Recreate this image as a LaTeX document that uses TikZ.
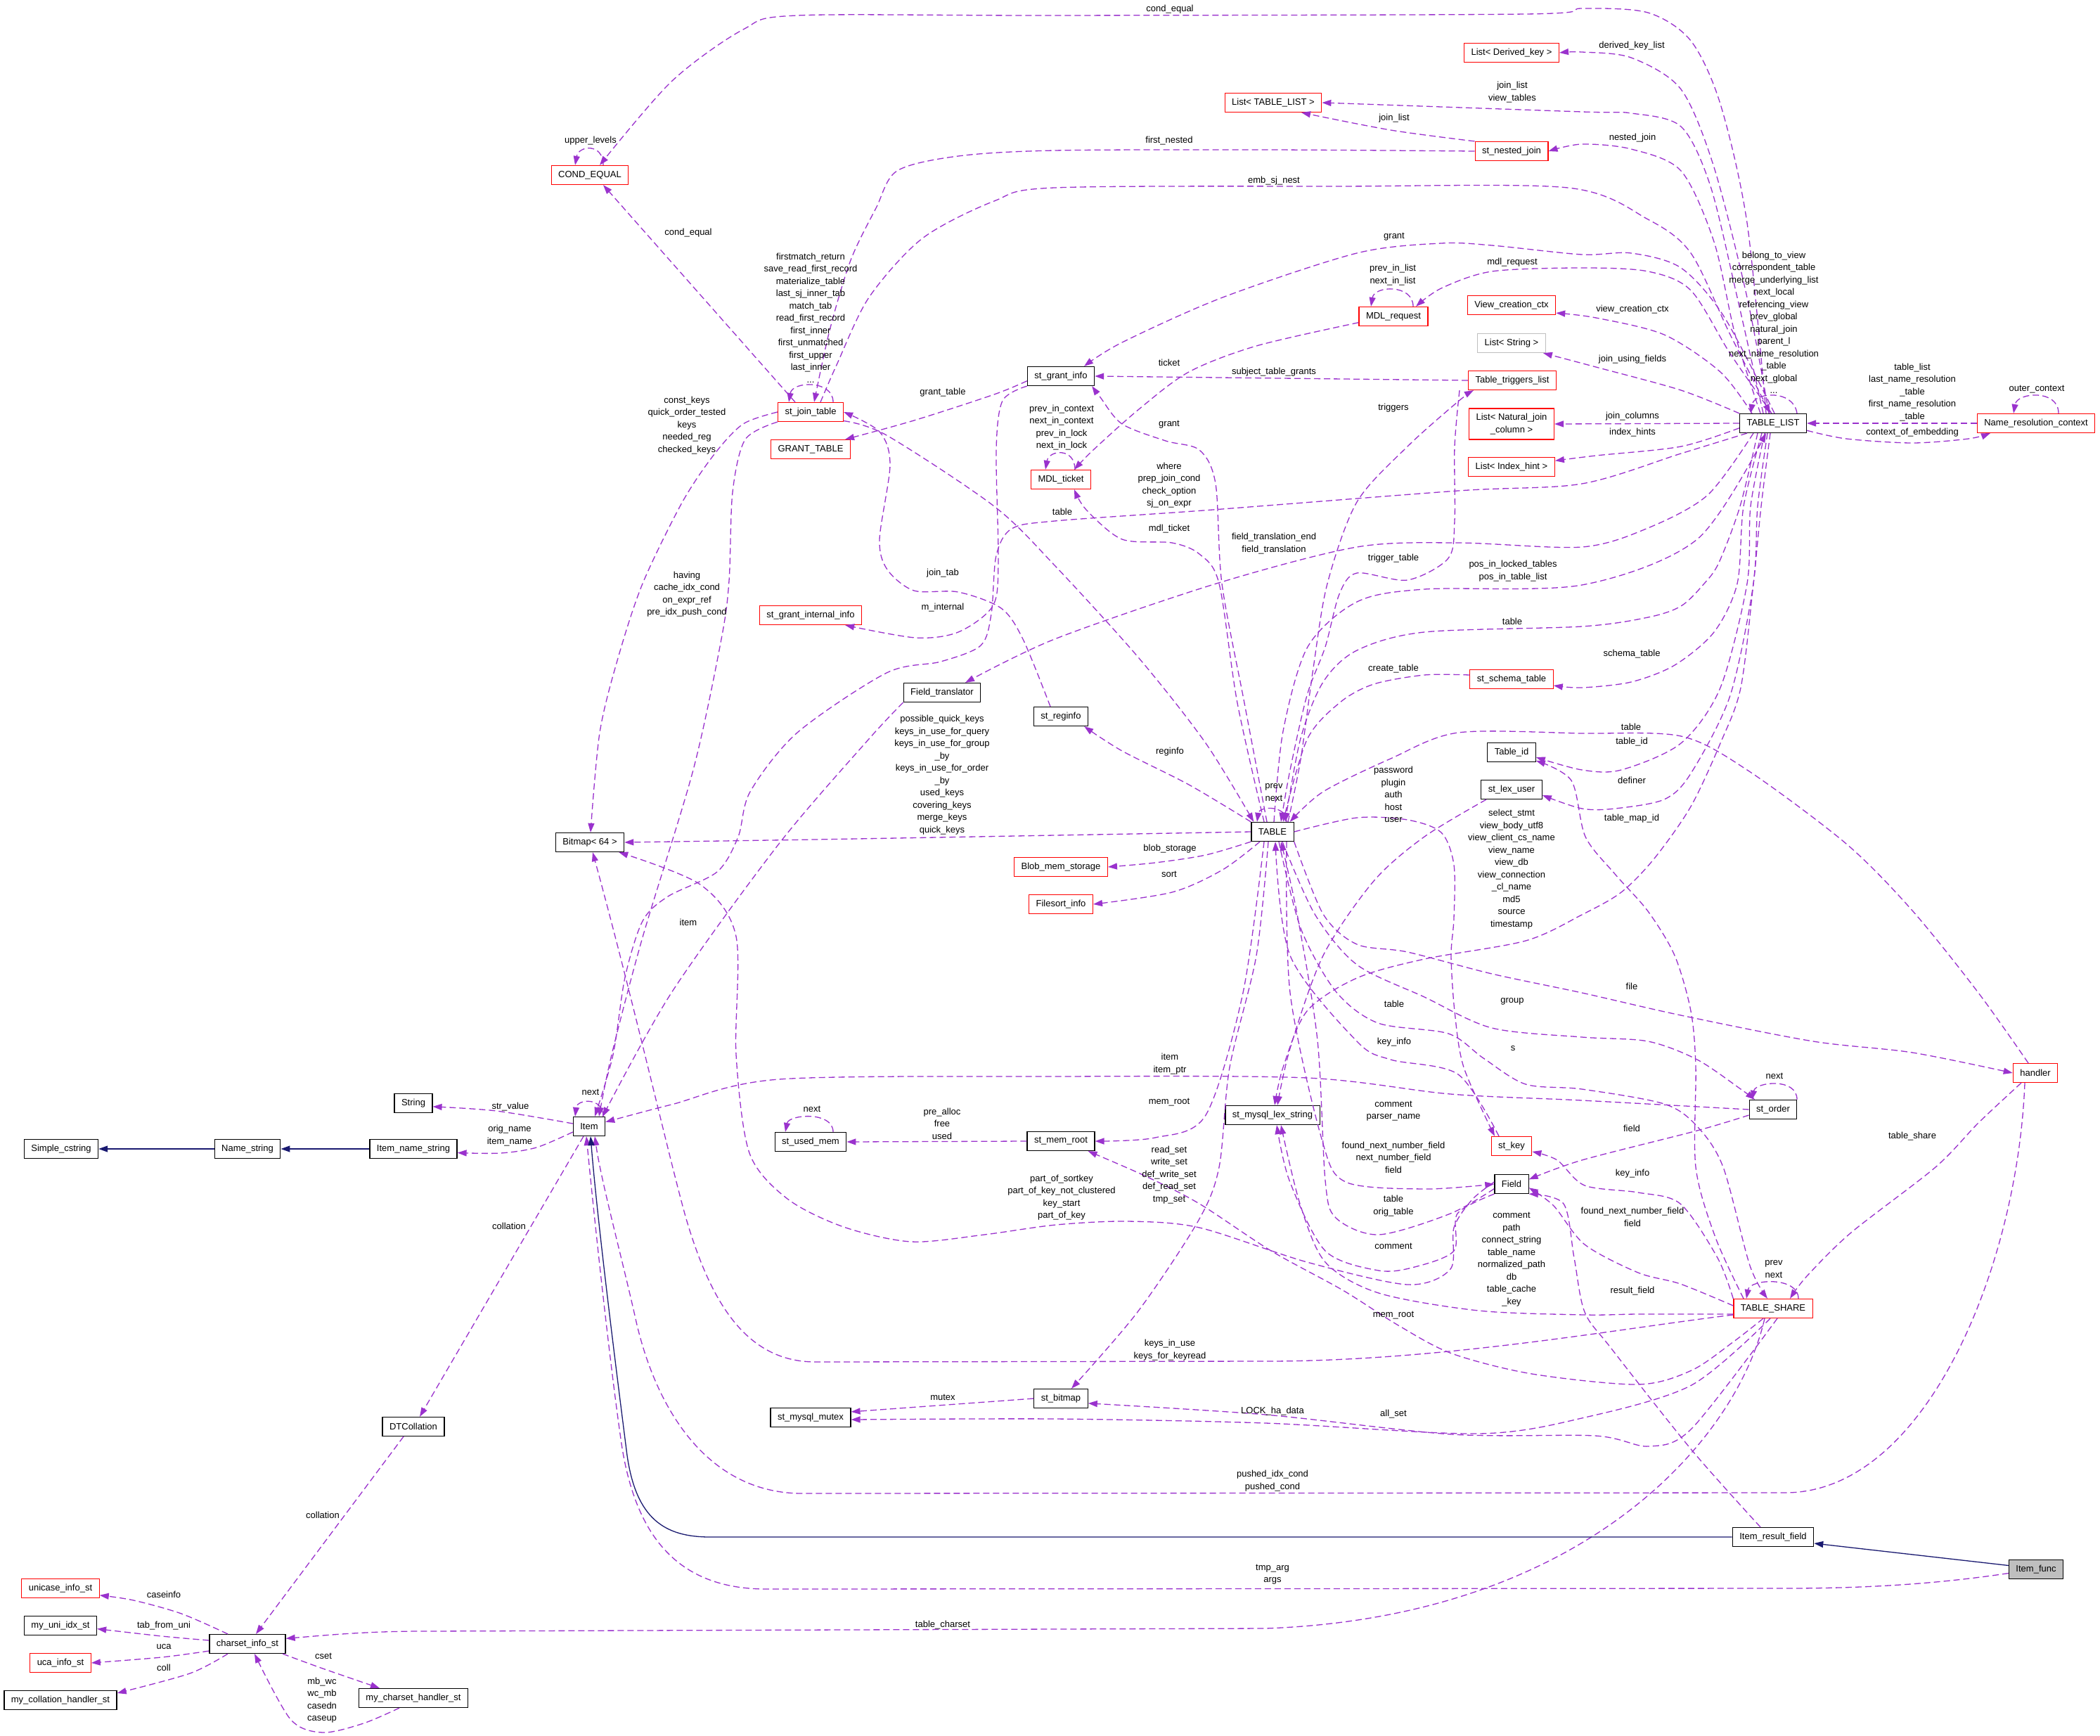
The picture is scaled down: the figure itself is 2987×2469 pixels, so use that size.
\documentclass[tikz,border=0pt]{standalone}
\usepackage{fontspec}
\setmainfont{Liberation Sans}
\usetikzlibrary{arrows.meta}
\definecolor{purp}{HTML}{9A32CD}
\definecolor{navyb}{HTML}{191970}
\newcommand{\dxf}{\fontsize{13bp}{17.5bp}\selectfont}
\newcommand{\depc}[1]{\draw[dep] plot[smooth,tension=0.5] coordinates {#1};}
\begin{document}
\begin{tikzpicture}[x=1bp,y=-1bp,
 box/.style={draw=black, line width=1.2bp, inner xsep=10bp, inner ysep=0bp, minimum height=27bp, font=\dxf, align=center},
 rbox/.style={box, draw=red},
 gbox/.style={box, draw=black!25},
 dep/.style={draw=purp, line width=1.3bp, dash pattern=on 9bp off 5bp, -{Triangle[length=13bp,width=9bp]}},
 inh/.style={draw=navyb, line width=1.3bp, -{Triangle[length=13bp,width=9bp]}},
 lab/.style={font=\dxf, align=center, inner sep=0pt}]
\fill[white] (0,0) rectangle (2987,2469);
\useasboundingbox (0,0) rectangle (2987,2469);
% ---------- nodes ----------
\node[rbox] (cond) at (839,249) {COND\_EQUAL};
\node[rbox] (ldk) at (2150,75) {List< Derived\_key >};
\node[rbox] (ltl) at (1811,146) {List< TABLE\_LIST >};
\node[rbox] (snj) at (2150,215) {st\_nested\_join};
\node[rbox] (vcc) at (2150,434) {View\_creation\_ctx};
\node[rbox] (mdlreq) at (1982,450) {MDL\_request};
\node[gbox] (lstr) at (2150,488) {List< String >};
\node[rbox] (ttl) at (2151,541) {Table\_triggers\_list};
\node[rbox, minimum height=44bp] (lnjc) at (2150,603) {List< Natural\_join\\\_column >};
\node[rbox] (lih) at (2150,664) {List< Index\_hint >};
\node[box] (tl) at (2522,602) {TABLE\_LIST};
\node[rbox] (nrc) at (2896,602) {Name\_resolution\_context};
\node[box] (sgi) at (1509,535) {st\_grant\_info};
\node[rbox] (gt) at (1153,639) {GRANT\_TABLE};
\node[rbox] (sjt) at (1153,586) {st\_join\_table};
\node[rbox] (mdlt) at (1509,682) {MDL\_ticket};
\node[rbox] (sgii) at (1153,875) {st\_grant\_internal\_info};
\node[box] (ft) at (1340,985) {Field\_translator};
\node[box] (sreg) at (1509,1019) {st\_reginfo};
\node[rbox] (sst) at (2150,966) {st\_schema\_table};
\node[box] (tid) at (2150,1070) {Table\_id};
\node[box] (slu) at (2150,1123) {st\_lex\_user};
\node[box] (tbl) at (1810,1183) {TABLE};
\node[box] (bmp) at (839,1198) {Bitmap< 64 >};
\node[rbox] (bms) at (1509,1233) {Blob\_mem\_storage};
\node[rbox] (fsi) at (1509,1286) {Filesort\_info};
\node[rbox] (hdl) at (2895,1526) {handler};
\node[box] (sord) at (2522,1578) {st\_order};
\node[box] (str) at (588,1569) {String};
\node[box] (item) at (838,1602) {Item};
\node[box] (scs) at (87,1634) {Simple\_cstring};
\node[box] (ns) at (352,1634) {Name\_string};
\node[box] (ins) at (588,1634) {Item\_name\_string};
\node[box] (sum) at (1153,1624) {st\_used\_mem};
\node[box] (smr) at (1509,1623) {st\_mem\_root};
\node[box] (smls) at (1810,1586) {st\_mysql\_lex\_string};
\node[rbox] (skey) at (2150,1630) {st\_key};
\node[box] (fld) at (2150,1684) {Field};
\node[rbox] (tsh) at (2522,1861) {TABLE\_SHARE};
\node[box] (sbm) at (1509,1989) {st\_bitmap};
\node[box] (smm) at (1153,2016) {st\_mysql\_mutex};
\node[box] (dtc) at (588,2029) {DTCollation};
\node[box] (irf) at (2522,2186) {Item\_result\_field};
\node[box, fill=black!25] (ifn) at (2896,2232) {Item\_func};
\node[rbox] (uis) at (86,2259) {unicase\_info\_st};
\node[box] (muis) at (86,2312) {my\_uni\_idx\_st};
\node[box] (cis) at (352,2338) {charset\_info\_st};
\node[rbox] (uca) at (86,2365) {uca\_info\_st};
\node[box] (mchs) at (86,2418) {my\_collation\_handler\_st};
\node[box] (mchr) at (588,2415) {my\_charset\_handler\_st};
% ---------- edges: TABLE_LIST fan ----------
\depc{([xshift=-10bp]tl.north) (2485,317) (2447,148) (2405,58) (2344,18) (2250,12) (2170,20) (1500,22) (1134,22) (1057,42) (955,116) ([xshift=14bp]cond.north)}
\depc{([xshift=-6bp]tl.north) (2485,423) (2438,238) (2391,127) (2320,82) (2250,74) (ldk.east)}
\depc{([xshift=-14bp]tl.north) (2471,423) (2433,265) (2391,180) (2320,161) (2250,159) (ltl.east)}
\depc{([xshift=-18bp]tl.north) (2468,476) (2438,344) (2391,243) (2320,212) (2250,205) (snj.east)}
\depc{(snj.165) (1978,185) ([xshift=40bp]ltl.south)}
\depc{(snj.west) (1800,213) (1500,214) (1363,222) (1276,243) (1246,296) (1210,370) (1180,470) ([xshift=5bp]sjt.north)}
\depc{([xshift=14bp]sjt.north) (1190,519) (1236,423) (1312,339) (1414,286) (1500,267) (1900,265) (2230,267) (2344,312) (2405,360) (2461,476) ([xshift=-4bp]tl.north)}
\depc{([xshift=2bp]tl.north) (2452,450) (2391,381) (2320,360) (2250,362) (2122,349) (2050,346) (1930,360) (1739,423) (1596,487) ([xshift=33bp]sgi.north)}
\depc{([xshift=-2bp]tl.north) (2461,503) (2405,413) (2344,386) (2250,381) (2122,386) (2050,410) ([xshift=32bp]mdlreq.north)}
\depc{([xshift=-30bp]tl.north) (2447,529) (2367,476) (2270,452) (vcc.-10)}
\depc{(tl.north west) (2391,555) (2270,522) ([xshift=-4bp]lstr.south east)}
\draw[dep] (tl.west) -- (lnjc.east);
\depc{(tl.-172) (2391,635) (2270,648) (lih.8)}
\draw[dep] ([xshift=34bp]tl.north) .. controls +(-5,-35) and +(5,-30) .. ([xshift=-32bp]tl.north);
\draw[dep] (nrc.west) -- (tl.east);
\depc{(tl.-12) (2626,624) (2720,630) (2800,624) ([xshift=-65bp]nrc.south)}
\draw[dep] ([xshift=32bp]nrc.north) .. controls +(0,-35) and +(5,-30) .. ([xshift=-32bp]nrc.north);
% ---------- st_join_table, COND_EQUAL ----------
\draw[dep] ([xshift=32bp]sjt.north) .. controls +(0,-32) and +(5,-30) .. ([xshift=-31bp]sjt.north);
\draw[dep] ([xshift=19bp]cond.north) .. controls +(0,-32) and +(5,-28) .. ([xshift=-21bp]cond.north);
\draw[dep] ([xshift=-22bp]sjt.north) -- ([xshift=19bp]cond.south);
\depc{(sjt.west) (1057,603) (1016,646) (970,715) (914,830) (879,936) (853,1042) ([xshift=1bp]bmp.north)}
\depc{(sjt.south west) (1060,625) (1042,700) (1037,826) (1026,909) (986,1095) (914,1333) (870,1500) ([xshift=14bp]item.north)}
\depc{(sjt.-15) (1261,619) (1414,720) (1500,804) (1620,936) (1715,1057) ([xshift=4bp]tbl.north west)}
\depc{([xshift=-15bp]sreg.north) (1455,909) (1424,865) (1363,842) (1300,840) (1262,810) (1251,767) (1266,661) (1251,614) (sjt.east)}
% ---------- st_grant_info, MDL ----------
\depc{(sgi.-172) (1414,561) (1300,598) ([xshift=-8bp]gt.north east)}
\depc{(sgi.south west) (1426,570) (1417,640) (1420,800) (1412,862) (1363,899) (1302,907) ([xshift=-24bp]sgii.south east)}
\draw[dep] (ttl.west) -- (sgi.east);
\depc{(mdlreq.-170) (1787,492) (1691,529) (1620,582) (1555,640) ([xshift=19bp]mdlt.north)}
\draw[dep] ([xshift=28bp]mdlreq.north) .. controls +(0,-32) and +(5,-30) .. ([xshift=-32bp]mdlreq.north);
\draw[dep] ([xshift=20bp]mdlt.north) .. controls +(0,-32) and +(5,-28) .. ([xshift=-22bp]mdlt.north);
% ---------- TABLE_LIST -> Item, Field_translator ----------
\depc{([xshift=-37bp]tl.south) (2391,645) (2250,688) (2074,698) (1725,725) (1500,741) (1439,752) (1417,790) (1410,873) (1395,918) (1338,941) (1261,957) (1134,1042) (1067,1126) (1050,1190) (1020,1240) (950,1275) (914,1310) (889,1390) (872,1500) ([xshift=8bp]item.north)}
\depc{([xshift=-28bp]tl.south) (2429,704) (2344,751) (2250,778) (2074,772) (1930,778) (1730,830) (1500,909) ([xshift=33bp]ft.north)}
% ---------- TABLE top ----------
\depc{([xshift=2bp]tbl.north) (1825,1040) (1860,920) (1930,856) (2026,838) (2250,832) (2414,767) ([xshift=-10bp]tl.south)}
\depc{([xshift=-75bp]ttl.south) (2069,635) (2069,741) (2060,794) (2002,825) (1930,815) (1905,845) (1885,920) (1859,989) (1835,1095) ([xshift=12bp]tbl.north)}
\depc{([xshift=22bp]tbl.north) (1850,1080) (1868,950) (1888,830) (1930,714) (2002,635) (2074,571) ([xshift=-55bp]ttl.south)}
\depc{([xshift=-22bp]tl.south) (2475,720) (2445,800) (2424,830) (2391,862) (2344,878) (2250,891) (2026,899) (1930,925) (1882,970) (1850,1050) ([xshift=18bp]tbl.north)}
\depc{([xshift=-16bp]tl.south) (2480,720) (2471,830) (2438,899) (2382,946) (2320,970) (2250,978) ([yshift=-9bp]sst.east)}
\depc{([yshift=6bp]sst.west) (2026,960) (1954,973) (1906,999) (1859,1052) ([xshift=15bp]tbl.north)}
\depc{([xshift=-12bp]tl.south) (2490,720) (2485,830) (2447,978) (2391,1057) (2306,1095) (2250,1095) ([yshift=-7bp]tid.east)}
\depc{([xshift=-10bp]hdl.north) (2814,1412) (2720,1295) (2626,1200) (2485,1095) (2391,1047) (2250,1043) (2074,1042) (1978,1079) (1882,1126) ([xshift=-6bp]tbl.north east)}
\depc{([xshift=-8bp]tl.south) (2500,720) (2494,830) (2461,989) (2405,1100) (2367,1137) (2297,1150) (2250,1150) ([yshift=-8bp]slu.east)}
\depc{([xshift=-42bp]tsh.north) (2440,1760) (2412,1660) (2412,1518) (2405,1438) (2382,1359) (2344,1296) (2297,1243) (2255,1190) (2235,1110) ([yshift=-12bp]tid.east)}
\depc{([xshift=-4bp]tl.south) (2505,720) (2494,830) (2476,978) (2447,1057) (2405,1147) (2353,1221) (2306,1269) (2250,1301) (2170,1338) (2026,1364) (1930,1391) (1859,1438) (1825,1518) ([xshift=3bp]smls.north)}
\depc{([xshift=-36bp]slu.south) (2026,1190) (1954,1253) (1882,1359) (1835,1491) ([xshift=7bp]smls.north)}
\depc{(tbl.north west) (1691,1116) (1596,1068) ([xshift=-6bp]sreg.south east)}
\depc{([xshift=-12bp]tbl.north) (1760,1000) (1734,830) (1706,788) (1667,772) (1596,767) (1545,725) ([xshift=19bp]mdlt.south)}
\depc{([xshift=-8bp]tbl.north) (1770,1000) (1738,830) (1729,688) (1706,640) (1658,627) (1596,603) (1565,565) ([xshift=-4bp]sgi.south east)}
\draw[dep] ([xshift=20bp]tbl.north) .. controls +(0,-25) and +(3,-22) .. ([xshift=-22bp]tbl.north);
% ---------- TABLE left/bottom ----------
\depc{(tbl.west) (1500,1188) (1159,1194) (bmp.east)}
\depc{(tbl.south west) (1715,1216) (1643,1227) (bms.east)}
\depc{([xshift=-18bp]tbl.south) (1739,1237) (1667,1269) (fsi.east)}
\depc{(tbl.south east) (1882,1300) (1930,1343) (2002,1354) (2122,1385) (2250,1412) (2391,1444) (2579,1481) (2720,1497) (hdl.west)}
\depc{(tbl.east) (1930,1163) (2002,1166) (2050,1184) (2068,1230) (2068,1306) (2064,1359) (2069,1438) (2082,1518) ([xshift=-24bp]skey.north)}
\depc{([xshift=-18bp]skey.north) (2074,1528) (1978,1507) (1930,1481) (1835,1359) ([xshift=4bp]tbl.south)}
\depc{([xshift=14bp]tbl.south) (1870,1300) (1930,1372) (2026,1418) (2122,1462) (2250,1475) (2344,1481) (2414,1507) (2476,1549) ([xshift=-26bp]sord.north)}
\depc{([xshift=9bp]tbl.south) (1850,1320) (1900,1410) (1960,1455) (2060,1470) (2110,1505) (2170,1542) (2250,1549) (2367,1570) (2414,1602) (2451,1660) (2489,1800) ([xshift=-8bp]tsh.north)}
\depc{(sord.west) (2250,1565) (2063,1556) (1859,1533) (1500,1531) (1108,1535) (955,1571) (item.15)}
\depc{([yshift=-8bp]sord.west) (2414,1608) (2250,1650) (fld.15)}
\draw[dep] ([xshift=34bp]sord.north) .. controls +(0,-32) and +(5,-25) .. ([xshift=-30bp]sord.north);
\depc{([xshift=-20bp]hdl.south) (2814,1597) (2753,1660) (2633,1753) (2570,1815) ([xshift=24bp]tsh.north)}
\depc{(tsh.north west) (2443,1789) (2390,1712) (2330,1696) (2254,1686) (2215,1650) (skey.-15)}
\depc{([yshift=4bp]tsh.west) (2390,1826) (2330,1810) (2254,1770) (2210,1715) (fld.-12)}
\depc{([xshift=-18bp]irf.north) (2406,2062) (2292,1918) (2254,1866) (2239,1789) (2224,1712) (fld.south east)}
\draw[dep] ([xshift=36bp]tsh.north) .. controls +(0,-32) and +(5,-28) .. ([xshift=-38bp]tsh.north);
\depc{([xshift=20bp]tbl.south) (1835,1412) (1880,1620) (1914,1681) (2027,1691) (fld.west)}
\depc{(fld.-165) (2063,1726) (1961,1756) (1900,1732) (1885,1679) (1874,1480) (1845,1300) ([xshift=12bp]tbl.south)}
\depc{(fld.south west) (2073,1726) (2068,1779) (2012,1802) (1961,1807) (1885,1779) (1834,1679) ([xshift=6bp]smls.south)}
\depc{([yshift=3bp]fld.west) (2094,1706) (2068,1746) (2063,1805) (2002,1827) (1859,1795) (1706,1746) (1604,1737) (1502,1742) (1400,1756) (1296,1766) (1200,1745) (1120,1705) (1066,1640) (1047,1500) (1047,1332) (996,1258) ([xshift=-8bp]bmp.south east)}
\depc{(tsh.-172) (2330,1869) (2254,1870) (2103,1864) (1961,1839) (1885,1795) (1849,1712) ([xshift=12bp]smls.south)}
\draw[dep] ([yshift=-9bp]tsh.west) .. controls (2300,1890) and (2050,1936) .. (1800,1936) -- (1160,1937) .. controls (1060,1937) and (1010,1850) .. (975,1730) .. controls (950,1640) and (900,1420) .. ([xshift=4bp]bmp.south);
\depc{([xshift=-14bp]tsh.south) (2466,1908) (2406,1949) (2330,1969) (2179,1954) (2065,1925) (1989,1885) (1910,1835) (1808,1779) (1706,1712) (1630,1673) ([xshift=-10bp]smr.south east)}
\depc{([xshift=-4bp]tsh.south) (2406,1970) (2254,2016) (2103,2039) (1800,2024) (1500,2018) (smm.-3)}
\depc{([xshift=6bp]tsh.south) (2406,2032) (2345,2057) (2269,2042) (2065,2040) (1800,2012) (sbm.-10)}
\draw[dep] (sbm.west) -- (smm.8);
\depc{([xshift=-6bp]tbl.south) (1787,1359) (1749,1518) (1734,1660) (1704,1737) (1618,1866) ([xshift=15bp]sbm.north)}
\depc{([xshift=-12bp]tbl.south) (1768,1412) (1715,1586) (1643,1618) (smr.east)}
\draw[dep] (smr.west) -- (sum.east);
\draw[dep] ([xshift=32bp]sum.north) .. controls +(0,-30) and +(5,-25) .. ([xshift=-36bp]sum.north);
% ---------- Item ----------
\depc{(ft.south west) (1235,1052) (1108,1200) (955,1412) ([xshift=-4bp]item.north east)}
\draw[dep] ([xshift=20bp]item.north) .. controls +(0,-28) and +(3,-25) .. ([xshift=-20bp]item.north);
\depc{([yshift=4bp]item.west) (706,1580) (str.-10)}
\depc{([yshift=-8bp]item.west) (763,1632) (712,1640) (ins.-5)}
\draw[dep] ([xshift=-8bp]item.south) -- ([xshift=9bp]dtc.north);
\draw[dep] ([xshift=-14bp]dtc.south) -- ([xshift=12bp]cis.north);
\depc{([xshift=-28bp]cis.north) (258,2295) (190,2276) (uis.-10)}
\depc{([yshift=5bp]cis.west) (230,2327) (muis.-5)}
\depc{([yshift=-10bp]cis.west) (230,2357) (uca.east)}
\depc{([xshift=-28bp]cis.south) (270,2380) ([yshift=10bp]mchs.east)}
\depc{([xshift=50bp]cis.south) (459,2373) ([xshift=-48bp]mchr.north)}
\depc{([xshift=-20bp]mchr.south) (517,2451) (459,2464) (413,2445) ([xshift=10bp]cis.south)}
\draw[dep] ([xshift=-12bp]tsh.south) .. controls (2470,2050) and (2250,2300) .. (1800,2316) -- (600,2320) .. controls (520,2320) and (460,2326) .. (cis.8);
\draw[dep] ([xshift=-15bp]hdl.south) .. controls (2870,1800) and (2740,2122) .. (2540,2123) -- (1141,2124) .. controls (1010,2124) and (935,2010) .. (905,1880) .. controls (885,1790) and (855,1680) .. ([xshift=8bp]item.south);
\draw[dep] (ifn.-172) .. controls (2760,2252) and (2660,2259) .. (2540,2259) -- (1090,2260) .. controls (960,2260) and (905,2180) .. (885,2060) .. controls (870,1960) and (848,1760) .. ([xshift=-4bp]item.south);
% ---------- inheritance ----------
\draw[inh] (ifn.172) -- ([yshift=-9bp]irf.east);
\draw[inh] (irf.west) -- (1010,2186) .. controls (945,2186) and (905,2160) .. (892,2070) .. controls (878,1960) and (850,1740) .. ([xshift=2bp]item.south);
\draw[inh] (ins.west) -- (ns.east);
\draw[inh] (ns.west) -- (scs.east);
% ---------- labels ----------
\node[lab] (L1) at (1664,13) {cond\_equal};
\node[lab] (L2) at (2321,65) {derived\_key\_list};
\node[lab] (L3) at (2151,131) {join\_list\\view\_tables};
\node[lab] (L4) at (1983,168) {join\_list};
\node[lab] (L5) at (2322,196) {nested\_join};
\node[lab] (L6) at (1663,200) {first\_nested};
\node[lab] (L7) at (840,200) {upper\_levels};
\node[lab] (L8) at (1812,257) {emb\_sj\_nest};
\node[lab] (L9) at (979,331) {cond\_equal};
\node[lab] (L10) at (1983,337) {grant};
\node[lab] (L11) at (2151,373) {mdl\_request};
\node[lab] (L12) at (1981,391) {prev\_in\_list\\next\_in\_list};
\node[lab] (L13) at (1153,452) {firstmatch\_return\\save\_read\_first\_record\\materialize\_table\\last\_sj\_inner\_tab\\match\_tab\\read\_first\_record\\first\_inner\\first\_unmatched\\first\_upper\\last\_inner\\...};
\node[lab] (L14) at (2322,440) {view\_creation\_ctx};
\node[lab] (L15) at (2523,459) {belong\_to\_view\\correspondent\_table\\merge\_underlying\_list\\next\_local\\referencing\_view\\prev\_global\\natural\_join\\parent\_l\\next\_name\_resolution\\\_table\\next\_global\\...};
\node[lab] (L16) at (2322,511) {join\_using\_fields};
\node[lab] (L17) at (1663,516) {ticket};
\node[lab] (L18) at (1812,529) {subject\_table\_grants};
\node[lab] (L19) at (2720,558) {table\_list\\last\_name\_resolution\\\_table\\first\_name\_resolution\\\_table};
\node[lab] (L20) at (2897,554) {outer\_context};
\node[lab] (L21) at (1341,558) {grant\_table};
\node[lab] (L22) at (977,605) {const\_keys\\quick\_order\_tested\\keys\\needed\_reg\\checked\_keys};
\node[lab] (L23) at (1982,580) {triggers};
\node[lab] (L24) at (2322,592) {join\_columns};
\node[lab] (L25) at (1510,608) {prev\_in\_context\\next\_in\_context\\prev\_in\_lock\\next\_in\_lock};
\node[lab] (L26) at (1663,604) {grant};
\node[lab] (L27) at (2322,615) {index\_hints};
\node[lab] (L28) at (2720,615) {context\_of\_embedding};
\node[lab] (L29) at (1663,690) {where\\prep\_join\_cond\\check\_option\\sj\_on\_expr};
\node[lab] (L30) at (1511,728) {table};
\node[lab] (L31) at (1663,752) {mdl\_ticket};
\node[lab] (L32) at (1812,773) {field\_translation\_end\\field\_translation};
\node[lab] (L33) at (1982,794) {trigger\_table};
\node[lab] (L34) at (2152,812) {pos\_in\_locked\_tables\\pos\_in\_table\_list};
\node[lab] (L35) at (1341,815) {join\_tab};
\node[lab] (L36) at (977,845) {having\\cache\_idx\_cond\\on\_expr\_ref\\pre\_idx\_push\_cond};
\node[lab] (L37) at (1341,864) {m\_internal};
\node[lab] (L38) at (2151,884) {table};
\node[lab] (L39) at (2321,930) {schema\_table};
\node[lab] (L40) at (1982,951) {create\_table};
\node[lab] (L41) at (1340,1102) {possible\_quick\_keys\\keys\_in\_use\_for\_query\\keys\_in\_use\_for\_group\\\_by\\keys\_in\_use\_for\_order\\\_by\\used\_keys\\covering\_keys\\merge\_keys\\quick\_keys};
\node[lab] (L42) at (2320,1034) {table};
\node[lab] (L43) at (2321,1055) {table\_id};
\node[lab] (L44) at (1664,1069) {reginfo};
\node[lab] (L45) at (1982,1130) {password\\plugin\\auth\\host\\user};
\node[lab] (L46) at (2321,1110) {definer};
\node[lab] (L47) at (1812,1127) {prev\\next};
\node[lab] (L48) at (2150,1236) {select\_stmt\\view\_body\_utf8\\view\_client\_cs\_name\\view\_name\\view\_db\\view\_connection\\\_cl\_name\\md5\\source\\timestamp};
\node[lab] (L49) at (2321,1164) {table\_map\_id};
\node[lab] (L50) at (1664,1207) {blob\_storage};
\node[lab] (L51) at (1663,1243) {sort};
\node[lab] (L52) at (979,1312) {item};
\node[lab] (L53) at (2321,1403) {file};
\node[lab] (L54) at (2151,1424) {group};
\node[lab] (L55) at (1983,1428) {table};
\node[lab] (L56) at (1983,1482) {key\_info};
\node[lab] (L57) at (2152,1491) {s};
\node[lab] (L58) at (1664,1513) {item\\item\_ptr};
\node[lab] (L59) at (2524,1530) {next};
\node[lab] (L60) at (840,1553) {next};
\node[lab] (L61) at (1663,1568) {mem\_root};
\node[lab] (L62) at (1982,1580) {comment\\parser\_name};
\node[lab] (L63) at (726,1574) {str\_value};
\node[lab] (L64) at (725,1615) {orig\_name\\item\_name};
\node[lab] (L65) at (1340,1598) {pre\_alloc\\free\\used};
\node[lab] (L66) at (1155,1577) {next};
\node[lab] (L67) at (2321,1605) {field};
\node[lab] (L68) at (2720,1616) {table\_share};
\node[lab] (L69) at (1663,1671) {read\_set\\write\_set\\def\_write\_set\\def\_read\_set\\tmp\_set};
\node[lab] (L70) at (1982,1646) {found\_next\_number\_field\\next\_number\_field\\field};
\node[lab] (L71) at (2322,1669) {key\_info};
\node[lab] (L72) at (1510,1703) {part\_of\_sortkey\\part\_of\_key\_not\_clustered\\key\_start\\part\_of\_key};
\node[lab] (L73) at (1982,1715) {table\\orig\_table};
\node[lab] (L74) at (2322,1731) {found\_next\_number\_field\\field};
\node[lab] (L75) at (724,1744) {collation};
\node[lab] (L76) at (2150,1791) {comment\\path\\connect\_string\\table\_name\\normalized\_path\\db\\table\_cache\\\_key};
\node[lab] (L77) at (1982,1772) {comment};
\node[lab] (L78) at (2523,1805) {prev\\next};
\node[lab] (L79) at (2322,1836) {result\_field};
\node[lab] (L80) at (1982,1871) {mem\_root};
\node[lab] (L81) at (1664,1920) {keys\_in\_use\\keys\_for\_keyread};
\node[lab] (L82) at (1341,1987) {mutex};
\node[lab] (L83) at (1810,2007) {LOCK\_ha\_data};
\node[lab] (L84) at (1982,2011) {all\_set};
\node[lab] (L85) at (1810,2106) {pushed\_idx\_cond\\pushed\_cond};
\node[lab] (L86) at (459,2155) {collation};
\node[lab] (L87) at (1810,2239) {tmp\_arg\\args};
\node[lab] (L88) at (233,2268) {caseinfo};
\node[lab] (L89) at (1341,2311) {table\_charset};
\node[lab] (L90) at (233,2312) {tab\_from\_uni};
\node[lab] (L91) at (233,2342) {uca};
\node[lab] (L92) at (460,2355) {cset};
\node[lab] (L93) at (233,2372) {coll};
\node[lab] (L94) at (458,2418) {mb\_wc\\wc\_mb\\casedn\\caseup};
\end{tikzpicture}
\end{document}
